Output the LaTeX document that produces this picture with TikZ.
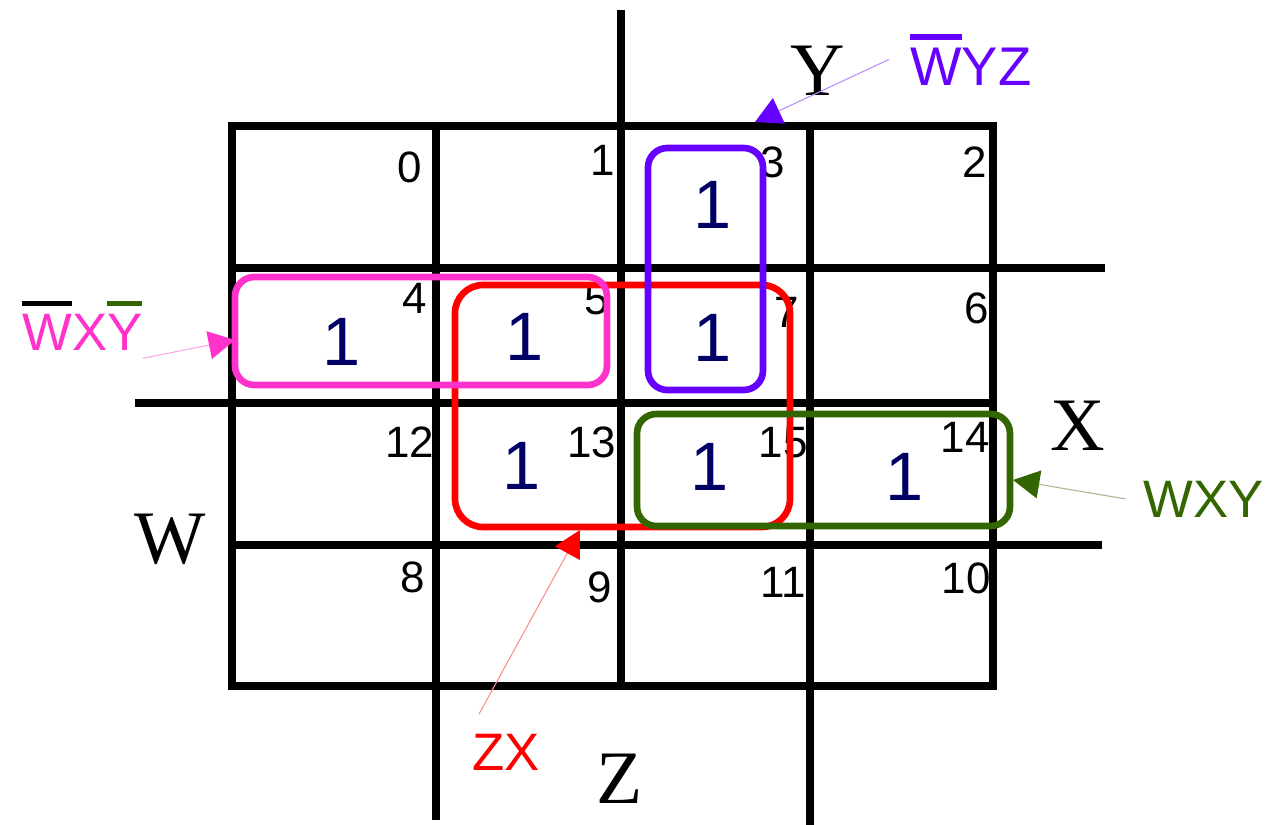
\documentclass[tikz,border=0pt]{standalone}
\usepackage{fontspec}
\setmainfont{Liberation Sans}
\newfontfamily\axisfont{Liberation Serif}
\usetikzlibrary{arrows.meta}

% bar over a letter, in a colour of its own
\newcommand{\kbar}[2]{\setbox0\hbox{#2}\rlap{\color{#1}\rule[\dimexpr\ht0+0.14em\relax]{\wd0}{0.11em}}\box0}

\begin{document}
\begin{tikzpicture}[x=0.02cm, y=-0.02cm,
    gridLine/.style={line width=4pt},
    loopLine/.style={line width=3.8pt, rounded corners=11pt},
    cellNum/.style={inner sep=0pt, font=\fontsize{25}{30}\selectfont},
    minTerm/.style={inner sep=0pt, text=oneColour, font=\fontsize{39}{44}\selectfont},
    axisLabel/.style={inner sep=0pt, anchor=base, font=\axisfont\fontsize{43}{50}\selectfont},
    termLabel/.style={inner sep=0pt, anchor=base west, font=\fontsize{30}{36}\selectfont},
    pointer/.style={line width=0.6pt, draw=#1!45,
        -{Triangle[length=15pt,width=16pt,color=#1,fill=#1]}}]

    \definecolor{oneColour}{HTML}{000066}
    \definecolor{purpleColour}{HTML}{6600FF}
    \definecolor{pinkColour}{HTML}{FF33CC}
    \definecolor{redColour}{HTML}{FF0000}
    \definecolor{greenColour}{HTML}{336600}

    \useasboundingbox (0,0) rectangle (1268,825);

    % Draw grid
    \draw[gridLine] (232,126) rectangle (993,686);
    \draw[gridLine] (436,126) -- (436,820);
    \draw[gridLine] (621,10) -- (621,686);
    \draw[gridLine] (810,126) -- (810,825);
    \draw[gridLine] (232,268) -- (1105,268);
    \draw[gridLine] (135,403) -- (995,403);
    \draw[gridLine] (232,545) -- (1102,545);

    % Variable names
    \node[axisLabel] (labY) at (818,95) {Y};
    \node[axisLabel] (labX) at (1078,450) {X};
    \node[axisLabel] (labW) at (170,563) {W};
    \node[axisLabel] (labZ) at (620,803) {Z};

    % Cell numbers
    \foreach \num/\px/\py in {0/410/167, 1/603/160, 3/773/162, 2/975/162,
            4/415/298, 5/597/300, 7/787/312, 6/977/308,
            12/410/442, 13/592/442, 15/783/443, 14/965/437,
            8/413/577, 9/600/587, 11/783/582, 10/966/578}
        \node[cellNum] (c\num) at (\px,\py) {\num};

    % Ones of the map
    \foreach \num/\px/\py in {4/342/342, 5/525/337, 3/713/205, 7/713/338,
            13/522/466, 15/710/467, 14/905/477}
        \node[minTerm] (m\num) at (\px,\py) {1};

    % Groups
    \draw[loopLine, redColour, rounded corners=16pt] (455,285) rectangle (790,527);
    \draw[loopLine, pinkColour] (235,277) rectangle (607,385);
    \draw[loopLine, purpleColour] (648,148) rectangle (763,390);
    \draw[loopLine, greenColour] (637,414) rectangle (1010,526);

    % Group terms
    \node[termLabel, text=purpleColour, font=\fontsize{31}{36}\selectfont] (tWYZ) at (910,85) {\kbar{purpleColour}{W}YZ};
    \node[termLabel, text=pinkColour] (tWXY) at (22,350) {\kbar{black}{W}X\kbar{greenColour}{Y}};
    \node[termLabel, text=greenColour] (tGreen) at (1143,517) {WXY};
    \node[termLabel, text=redColour] (tZX) at (472,770) {ZX};

    \coordinate (purpleTip) at (755,122);
    \coordinate (pinkTip) at (235,340);
    \coordinate (greenTip) at (1013,480);
    \coordinate (redTip) at (580,530);

    \draw[pointer=purpleColour] ([xshift=-12pt]tWYZ.west) -- (purpleTip);
    \draw[pointer=pinkColour] ([yshift=-4.5pt]tWXY.south east) -- (pinkTip);
    \draw[pointer=greenColour] ([xshift=-10pt]tGreen.west) -- (greenTip);
    \draw[pointer=redColour] ([xshift=4pt,yshift=11pt]tZX.north west) -- (redTip);

\end{tikzpicture}
\end{document}
